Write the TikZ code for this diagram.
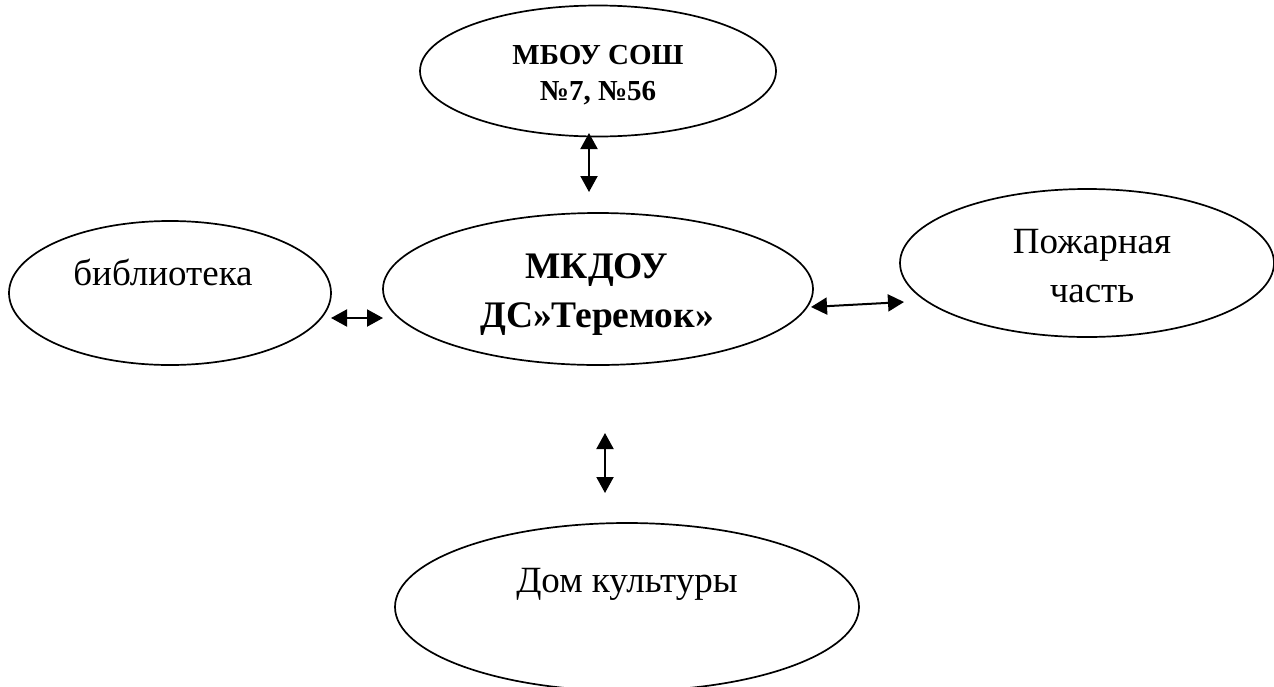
\documentclass[tikz,border=0pt]{standalone}
\usepackage{fontspec}
\setmainfont{Liberation Serif}
\usetikzlibrary{shapes.geometric,arrows.meta}
\tikzset{
  ell/.style={draw, ellipse, line width=1.7pt, inner sep=0pt},
  biarrow/.style={{Triangle[length=16pt,width=17pt]}-{Triangle[length=16pt,width=17pt]}, line width=2pt},
  big/.style={anchor=base, font=\fontsize{37}{44}\selectfont},
  bigb/.style={anchor=base, font=\fontsize{37.5}{44}\selectfont\bfseries},
  smallb/.style={anchor=base, font=\fontsize{29}{34}\selectfont\bfseries}
}
\begin{document}
\begin{tikzpicture}[x=1pt,y=-1pt]
\useasboundingbox (0,0) rectangle (1274,686);
% ellipses
\node[ell, minimum width=356pt, minimum height=131pt] (school) at (598,71) {};
\node[ell, minimum width=430pt, minimum height=152pt] (kdou) at (598,289) {};
\node[ell, minimum width=322pt, minimum height=144pt] (lib) at (170,293) {};
\node[ell, minimum width=374pt, minimum height=148pt] (fire) at (1087,263) {};
\node[ell, minimum width=464pt, minimum height=168pt] (house) at (627,607) {};
% texts
\node[smallb] (school1) at (598,64) {МБОУ СОШ};
\node[smallb] (school2) at (598,100) {№7, №56};
\node[bigb] (kdou1) at (597,278) {МКДОУ};
\node[bigb] (kdou2) at (597,327) {ДС»Теремок»};
\node[big] (libt) at (163,285) {библиотека};
\node[big] (fire1) at (1092,253) {Пожарная};
\node[big] (fire2) at (1092,302) {часть};
\node[big] (houset) at (627,592) {Дом культуры};
% connectors
\coordinate (t1) at (589,133);
\coordinate (t2) at (589,192);
\coordinate (l1) at (331,318);
\coordinate (l2) at (383,318);
\coordinate (r1) at (811,307);
\coordinate (r2) at (904,302);
\coordinate (b1) at (605,433);
\coordinate (b2) at (605,493);
\draw[biarrow] (t1) -- (t2);
\draw[biarrow] (l1) -- (l2);
\draw[biarrow] (r1) -- (r2);
\draw[biarrow] (b1) -- (b2);
\end{tikzpicture}
\end{document}
